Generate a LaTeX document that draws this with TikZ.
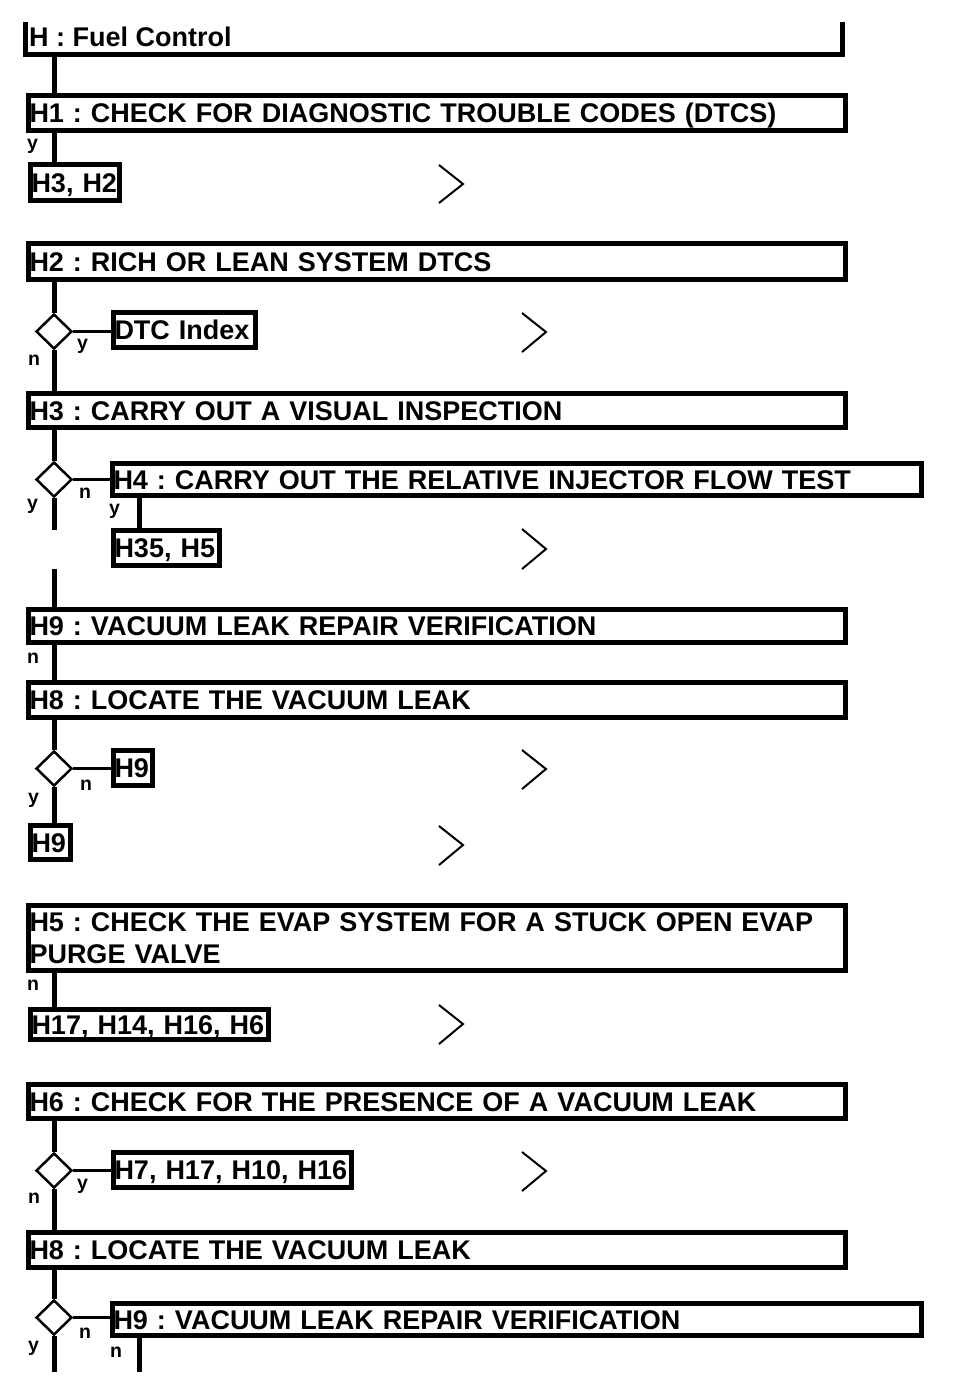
\documentclass[tikz,border=0pt]{standalone}
\usepackage{fontspec}
\setmainfont{Liberation Sans}
\usetikzlibrary{shapes.geometric}
\frenchspacing
\newcommand\bigf{\fontsize{27pt}{32pt}\selectfont\bfseries\frenchspacing}
\newcommand\labf{\fontsize{19.5pt}{22pt}\selectfont\bfseries}
\newcommand\bxgen[7][]{%
  \pgfmathsetmacro\bw{#5-#3-5}%
  \pgfmathsetmacro\bh{#6-#4-5}%
  \pgfmathsetmacro\tw{\bw-3}%
  \node[box, minimum width=\bw pt, minimum height=\bh pt, text width=\tw pt, #1] (#2) at (#3+2.5,#4+2.5) {#7};}
\newcommand\bx[6]{\bxgen{#1}{#2}{#3}{#4}{#5}{\mbox{#6}}}
\begin{document}
\begin{tikzpicture}[x=1pt,y=-1pt,
  box/.style={draw, line width=5pt, anchor=north west, inner xsep=1.5pt, inner ysep=0pt,
    align=left, text height=20pt, text depth=0pt, font=\bigf},
  twoline/.style={text depth=32pt},
  spine/.style={line width=5pt},
  branch/.style={line width=3pt},
  dia/.style={draw, diamond, line width=2.5pt, minimum width=36pt, minimum height=35pt, inner sep=0pt},
  chev/.style={line width=2pt},
  lab/.style={anchor=base west, inner sep=0pt, font=\labf},
  ttl/.style={anchor=base west, inner sep=0pt, font=\bigf}]
\useasboundingbox (0,0) rectangle (960,1398);
\coordinate (sp) at (54,0);
\coordinate (ss) at (139,0);

% title bracket
\node[ttl] (title) at (29,46) {H : Fuel Control};
\draw[line width=5pt] (25.5,22) -- (25.5,54.5) -- (842.5,54.5) -- (842.5,22);
\coordinate (tb) at (54,54.5);

% boxes
\bx{h1}{23}{90}{845}{130}{H1 : CHECK FOR DIAGNOSTIC TROUBLE CODES (DTCS)}
\bx{b1}{25}{159}{119}{200}{H3, H2}
\bx{h2}{23}{238}{845}{279}{H2 : RICH OR LEAN SYSTEM DTCS}
\bx{dtc}{108}{307}{255}{347}{DTC Index}
\bx{h3}{23}{388}{845}{427}{H3 : CARRY OUT A VISUAL INSPECTION}
\bx{h4}{107}{458}{921}{495}{H4 : CARRY OUT THE RELATIVE INJECTOR FLOW TEST}
\bx{b2}{108}{525}{219}{565}{H35, H5}
\bx{h9a}{23}{604}{845}{642}{H9 : VACUUM LEAK REPAIR VERIFICATION}
\bx{h8a}{23}{677}{845}{717}{H8 : LOCATE THE VACUUM LEAK}
\bx{b3}{108}{745}{152}{785}{H9}
\bx{b4}{25}{820}{70}{859}{H9}
\bxgen[twoline]{h5}{23}{900}{845}{970}{\mbox{H5 : CHECK THE EVAP SYSTEM FOR A STUCK OPEN EVAP}\\PURGE VALVE}
\bx{b5}{25}{1004}{268}{1039}{H17, H14, H16, H6}
\bx{h6}{23}{1079}{845}{1118}{H6 : CHECK FOR THE PRESENCE OF A VACUUM LEAK}
\bx{b6}{108}{1147}{351}{1187}{H7, H17, H10, H16}
\bx{h8b}{23}{1227}{845}{1267}{H8 : LOCATE THE VACUUM LEAK}
\bx{h9b}{107}{1298}{921}{1335}{H9 : VACUUM LEAK REPAIR VERIFICATION}

% decisions
\node[dia] (d2) at (54,331.5) {};
\node[dia] (d3) at (54,479.5) {};
\node[dia] (d4) at (54,768.5) {};
\node[dia] (d5) at (54,1170.5) {};
\node[dia] (d6) at (54,1317.5) {};

% free ends
\coordinate (e1) at (54,530);
\coordinate (e2) at (54,569);
\coordinate (e3) at (54,1372);
\coordinate (e4) at (139,1372);

% spine
\draw[spine] (tb) -- (h1.north -| sp);
\draw[spine] (h1.south -| sp) -- (b1.north -| sp);
\draw[spine] (h2.south -| sp) -- (d2.north);
\draw[spine] (d2.south) -- (h3.north -| sp);
\draw[spine] (h3.south -| sp) -- (d3.north);
\draw[spine] (d3.south) -- (e1);
\draw[spine] (e2) -- (h9a.north -| sp);
\draw[spine] (h9a.south -| sp) -- (h8a.north -| sp);
\draw[spine] (h8a.south -| sp) -- (d4.north);
\draw[spine] (d4.south) -- (b4.north -| sp);
\draw[spine] (h5.south -| sp) -- (b5.north -| sp);
\draw[spine] (h6.south -| sp) -- (d5.north);
\draw[spine] (d5.south) -- (h8b.north -| sp);
\draw[spine] (h8b.south -| sp) -- (d6.north);
\draw[spine] (d6.south) -- (e3);
\draw[spine] (h4.south -| ss) -- (b2.north -| ss);
\draw[spine] (h9b.south -| ss) -- (e4);

% branches
\draw[branch] (d2.east) -- (d2.east -| dtc.west);
\draw[branch] (d3.east) -- (d3.east -| h4.west);
\draw[branch] (d4.east) -- (d4.east -| b3.west);
\draw[branch] (d5.east) -- (d5.east -| b6.west);
\draw[branch] (d6.east) -- (d6.east -| h9b.west);

% labels
\node[lab] (ly1) at (27,149) {y};
\node[lab] (ly2) at (77,349) {y};
\node[lab] (ln2) at (28,365) {n};
\node[lab] (ln3) at (79,498) {n};
\node[lab] (ly3) at (27,509) {y};
\node[lab] (ly4) at (109,514) {y};
\node[lab] (ln9) at (27,663) {n};
\node[lab] (ln4) at (80,790) {n};
\node[lab] (ly5) at (28,803) {y};
\node[lab] (ln5) at (27,990) {n};
\node[lab] (ly6) at (77,1189) {y};
\node[lab] (ln6) at (28,1203) {n};
\node[lab] (ln7) at (79,1338) {n};
\node[lab] (ly7) at (28,1351) {y};
\node[lab] (ln8) at (110,1357) {n};

% chevrons
\draw[chev] (439,165) -- (463,184) -- (439,203);
\draw[chev] (522,313) -- (546,332) -- (522,352);
\draw[chev] (522,529) -- (546,549) -- (522,569);
\draw[chev] (522,750) -- (546,769) -- (522,789);
\draw[chev] (439,826) -- (463,845) -- (439,865);
\draw[chev] (439,1005) -- (463,1024) -- (439,1044);
\draw[chev] (522,1152) -- (546,1171) -- (522,1191);
\end{tikzpicture}
\end{document}
